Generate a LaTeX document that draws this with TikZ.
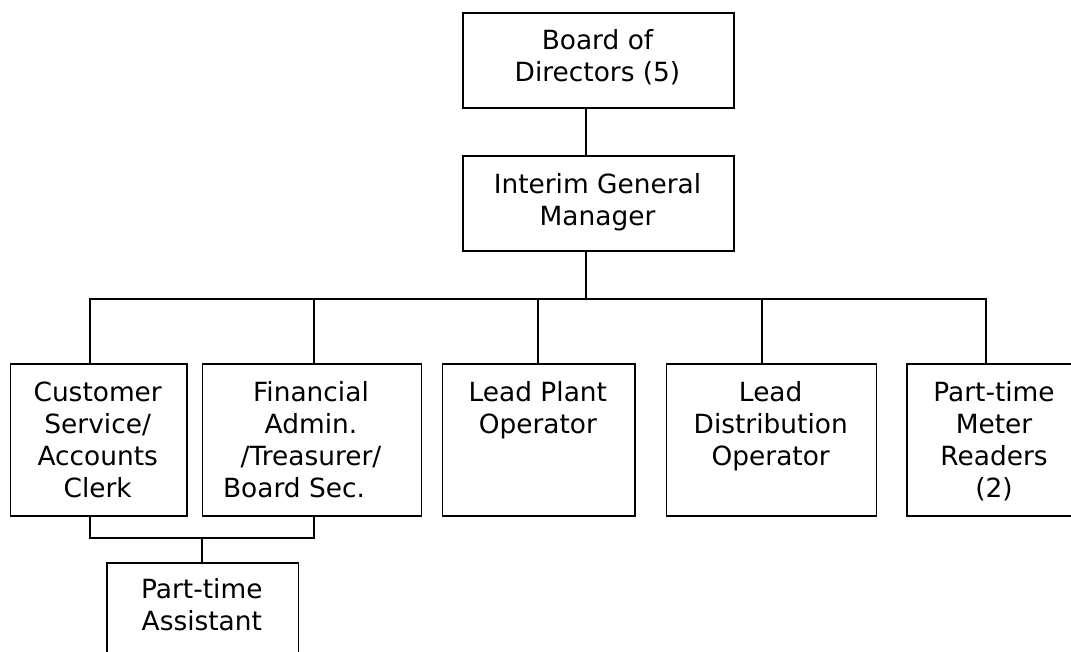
\documentclass[tikz,border=0pt]{standalone}
\usepackage{fontspec}
\setmainfont{DejaVu Sans}
\begin{document}
\begin{tikzpicture}[x=1pt,y=-1pt,
  box/.style={draw=black, line width=1.6pt, anchor=north west, inner sep=0pt, minimum height=152pt},
  lbl/.style={anchor=north, inner sep=0pt, align=center, font=\fontsize{26.4}{32}\selectfont, text=black},
  conn/.style={draw=black, line width=1.6pt}]
\useasboundingbox (0,0) rectangle (1071,652);
\fill[white] (0,0) rectangle (1071,652);
\clip (0,0) rectangle (1071,652);
% boxes
\node[box, minimum width=271pt, minimum height=95pt] (board) at (462,12) {};
\node[box, minimum width=271pt, minimum height=95.5pt] (igm) at (462,155) {};
\node[box, minimum width=176.5pt] (cust) at (9.5,363) {};
\node[box, minimum width=219pt] (fin) at (201.7,363) {};
\node[box, minimum width=192.3pt] (plant) at (441.7,363) {};
\node[box, minimum width=210pt] (dist) at (665.7,363) {};
\node[box, minimum width=176pt] (meter) at (906,363) {};
\node[box, minimum width=191.7pt, minimum height=100pt] (asst) at (106,562) {};
% labels
\node[lbl] (tboard) at (597.5,26.9) {\strut Board of\\Directors (5)};
\node[lbl] (tigm) at (597.5,170.9) {\strut Interim General\\Manager};
\node[lbl] (tcust) at (97.7,378.6) {\strut Customer\\Service/\\Accounts\\Clerk};
\node[lbl] (tfin) at (311,378.6) {\strut Financial\\Admin.\\/Treasurer/\hspace*{6pt}\\Board Sec.\hspace*{34pt}};
\node[lbl] (tplant) at (537.85,378.6) {\strut Lead Plant\\Operator};
\node[lbl] (tdist) at (770.7,378.6) {\strut Lead\\Distribution\\Operator};
\node[lbl] (tmeter) at (994,378.6) {\strut Part-time\\Meter\\Readers\\(2)};
\node[lbl] (tasst) at (201.85,575.6) {\strut Part-time\\Assistant};
% junction coordinates
\coordinate (top) at (586,299);
\coordinate (v1) at (90,299);
\coordinate (v2) at (314,299);
\coordinate (v3) at (538,299);
\coordinate (v4) at (762,299);
\coordinate (v5) at (986,299);
\coordinate (l1) at (90,537.7);
\coordinate (l2) at (314,537.7);
\coordinate (l3) at (202,537.7);
% connectors
\draw[conn] (board.south -| top) -- (igm.north -| top);
\draw[conn] (igm.south -| top) -- (top);
\draw[conn] (cust.north -| v1) -- (v1) -- (v5) -- (meter.north -| v5);
\draw[conn] (v2) -- (fin.north -| v2);
\draw[conn] (v3) -- (plant.north -| v3);
\draw[conn] (v4) -- (dist.north -| v4);
\draw[conn] (cust.south -| l1) -- (l1) -- (l2) -- (fin.south -| l2);
\draw[conn] (l3) -- (asst.north -| l3);
\end{tikzpicture}
\end{document}
